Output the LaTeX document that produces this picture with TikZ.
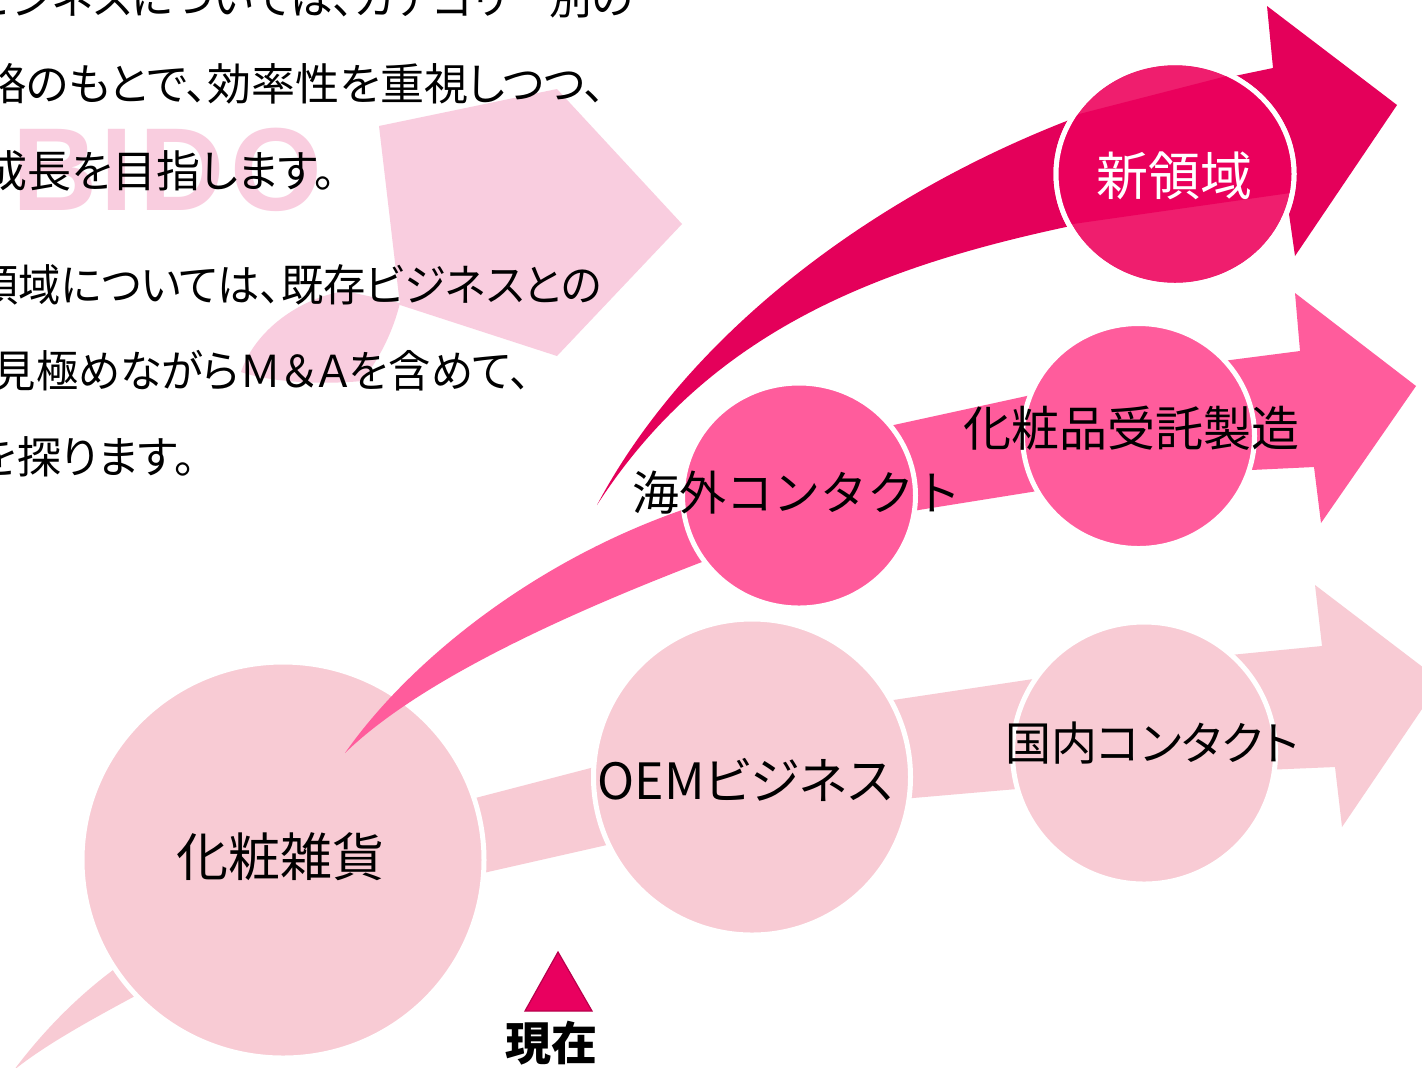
\documentclass[tikz,border=0pt]{standalone}
\usepackage{fontspec}
\newfontfamily\jp{Noto Sans CJK JP}
\newfontfamily\jpp[RawFeature=+palt]{Noto Sans CJK JP}
\newfontfamily\logofont{Liberation Sans}
\usetikzlibrary{shapes.geometric}
\definecolor{lightpk}{HTML}{F8CBD4}
\definecolor{midpk}{HTML}{FF5C9C}
\definecolor{darkpk}{HTML}{E4005A}
\definecolor{glossA}{HTML}{EF1E6E}
\definecolor{glossB}{HTML}{EA005C}
\definecolor{fadepk}{HTML}{F9CDDF}
\definecolor{trifill}{HTML}{E9005F}
\definecolor{triedge}{HTML}{B8004C}
\begin{document}
\begin{tikzpicture}[x=0.5pt,y=-0.5pt,
  bubble/.style={ellipse, draw=white, line width=2.5pt, inner sep=0pt, outer sep=0pt},
  para/.style={font=\jpp\fontsize{22}{26}\selectfont, anchor=east, inner sep=0pt, text=black},
  lbl/.style={inner sep=0pt, text=black}]
\useasboundingbox (0,0) rectangle (1422,1067);
\clip (0,0) rectangle (1422,1067);
\fill[white] (0,0) rectangle (1422,1067);

% faded watermark
\fill[fadepk] (379,126) -- (557,89) -- (682,224) -- (557,356) -- (400,305) -- cycle;
\fill[fadepk] (241,372) .. controls (255,330) and (300,298) .. (345,291) -- (400,303) .. controls (392,335) and (378,360) .. (362,381) .. controls (320,385) and (270,382) .. (241,372) -- cycle;
\node[anchor=base west, inner sep=0pt, text=fadepk, font=\logofont\bfseries\fontsize{59}{60}\selectfont] (logo) at (12,210) {B\kern1.5pt I\kern3pt D\kern3pt O};

% paragraph text
\node[para] (t1) at (634,-2) {\scalebox{0.97}[1]{ビジネスについては、カテゴリー別の}};
\node[para] (t2) at (606,84) {略のもとで、効率性を重視しつつ、};
\node[para] (t3) at (336,171) {成長を目指します。};
\node[para] (t4) at (602,285) {\scalebox{0.96}[1]{領域については、既存ビジネスとの}};
\node[para] (t5) at (531,371) {\scalebox{0.96}[1]{見極めながらＭ＆Ａを含めて、}};
\node[para] (t6) at (196,457) {を探ります。};

% bottom arrow (light)
\fill[lightpk] (14,1070) .. controls (50,1022) and (90,985) .. (130,958) -- (460,802) -- (610,763) -- (880,702) -- (1040,678) -- (1220,656) -- (1322,646) -- (1315,585) -- (1441,681) -- (1342,827) -- (1335,767) -- (1240,771) -- (1040,787) -- (890,800) -- (620,842) -- (470,876) -- (150,988) .. controls (90,1020) and (45,1045) .. (14,1070) -- cycle;
\node[bubble, fill=lightpk, minimum width=201pt, minimum height=198pt] (kz) at (283,860) {};
\node[bubble, fill=lightpk, minimum width=158.5pt, minimum height=158pt] (oem) at (752,777) {};
\node[bubble, fill=lightpk, minimum width=131.5pt, minimum height=131pt] (kn) at (1144,753) {};

% middle arrow
\fill[midpk] (345,753) .. controls (410,660) and (540,555) .. (700,504) -- (880,428) -- (1045,392) -- (1215,362) -- (1300,351) -- (1295,293) -- (1416,386) -- (1321,523) -- (1314,467) -- (1230,471) -- (1050,489) -- (900,513) -- (715,557) .. controls (570,612) and (420,680) .. (345,753) -- cycle;
\node[bubble, fill=midpk, minimum width=116.5pt, minimum height=112.5pt] (kg) at (799,495.5) {};
\node[bubble, fill=midpk, minimum width=116pt, minimum height=112.5pt] (js) at (1138.5,436) {};

% top arrow
\fill[darkpk] (597,505) .. controls (690,330) and (880,190) .. (1085,114) -- (1225,78) -- (1273,68) -- (1267,6) -- (1397,105) -- (1295,256) -- (1288,207) -- (1250,212) -- (1085,223) .. controls (880,265) and (710,330) .. (597,505) -- cycle;
\node[bubble, fill=glossA, minimum width=119pt, minimum height=111.5pt] (sr) at (1175,174) {};
\begin{scope}
  \clip (1175,174) ellipse [x radius=119, y radius=111.5];
  \fill[glossB] (1050,121.5) -- (1300,57.2) -- (1300,191.6) -- (1050,227.3) -- cycle;
\end{scope}
\draw[white, line width=2.5pt] (1175,174) ellipse [x radius=119, y radius=111.5];

% marker
\filldraw[fill=trifill, draw=triedge, line width=0.6pt] (525,1011) -- (558,952) -- (592,1011) -- cycle;

% labels
\node[lbl, font=\jp\fontsize{26}{30}\selectfont] (lkz) at (280,857) {化粧雑貨};
\node[lbl, font=\jpp\fontsize{25}{29}\selectfont] (loem) at (745,780) {OEMビジネス};
\node[lbl, font=\jpp\fontsize{23}{27}\selectfont] (lkn) at (1152,743) {国内コンタクト};
\node[lbl, font=\jp\fontsize{23.5}{27}\selectfont] (lkg) at (797,493) {海外コンタクト};
\node[lbl, font=\jp\fontsize{24}{28}\selectfont] (ljs) at (1131,428) {化粧品受託製造};
\node[lbl, text=white, font=\jp\fontsize{26}{30}\selectfont] (lsr) at (1174,176) {新領域};
\node[lbl, font=\jp\bfseries\fontsize{23}{27}\selectfont] (now) at (551,1043) {現在};
\end{tikzpicture}
\end{document}
